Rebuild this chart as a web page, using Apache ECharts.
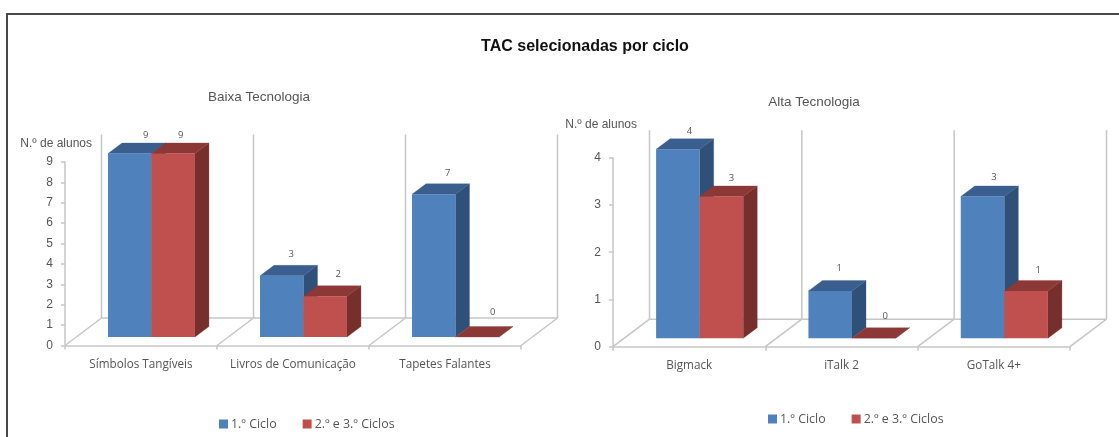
<!DOCTYPE html>
<html>
<head>
<meta charset="utf-8">
<style>html,body{margin:0;padding:0;background:#fff}#c{width:1119px;height:437px}</style>
<script src="https://cdn.jsdelivr.net/npm/echarts@6/dist/echarts.min.js"></script>
</head>
<body>
<div id="c"></div>
<script>
// ---- data ----
const seriesNames = ['1.º Ciclo', '2.º e 3.º Ciclos'];
const lowTechCategories = ['Símbolos Tangíveis', 'Livros de Comunicação', 'Tapetes Falantes'];
const lowTechCycle1 = [9, 3, 7];
const lowTechCycle23 = [9, 2, 0];
const highTechCategories = ['Bigmack', 'iTalk 2', 'GoTalk 4+'];
const highTechCycle1 = [4, 1, 3];
const highTechCycle23 = [3, 0, 1];

// ---- appearance ----
const wallDepth = [36.5, 27.5], barDepth = [14, 10.5], barRise = 8.5;
const barInset = 0.283, barShare = 0.286;
const lineGrey = '#c6c6c6', textGrey = '#555';
const palette = [
  {front: '#4f81bd', side: '#2f5078', top: '#3a5f8e'},
  {front: '#c0504d', side: '#772f2d', top: '#8c3836'}
];
const labelFont = '9.5px "Open Sans"';
// value-label offsets from the top-centre of each bar's front face: [panel][slot][category]
const labelOffsets = [
  [[[16, -18], [9.5, -22], [14, -21]], [[7.5, -18], [13, -21.5], [15.5, -25]]],
  [[[11.5, -18], [9, -23], [11.5, -19]], [[10, -18], [11.5, -22], [12, -21]]]
];

function wallsItem(params, api) {
  const i = api.value(0);
  const band = api.size([1, 0])[0];
  const base = api.coord([i, 0]);
  const top = api.coord([i, api.value(1)]);
  const dx = wallDepth[0], dy = wallDepth[1];
  const left = base[0] - band / 2;
  const y = base[1];
  const style = {stroke: lineGrey, lineWidth: 1.5, fill: null};
  const line = (a, b, c, d) => ({type: 'line', shape: {x1: a, y1: b, x2: c, y2: d}, style, silent: true});
  const kids = [
    line(left, y, left + dx, y - dy),
    line(left + dx, y - dy, left + dx, top[1] - dy),
    line(left + dx, y - dy, left + band + dx, y - dy)
  ];
  if (i === params.dataInsideLength - 1) {
    kids.push(line(left + band, y, left + band + dx, y - dy));
    kids.push(line(left + band + dx, y - dy, left + band + dx, top[1] - dy));
  }
  return {type: 'group', children: kids};
}

function barItem(panel, slot) {
  return function (params, api) {
    const cat = api.value(0);
    const band = api.size([1, 0])[0];
    const c0 = api.coord([cat, 0]);
    const c1 = api.coord([cat, api.value(1)]);
    const w = band * barShare;
    const x0 = c0[0] - band / 2 + band * barInset + slot * w;
    const x1 = x0 + w;
    const yb = c0[1] - barRise, yt = c1[1] - barRise;
    const dx = barDepth[0], dy = barDepth[1];
    const col = palette[slot];
    const off = labelOffsets[panel][slot][cat];
    const poly = (pts, fill) => ({type: 'polygon', shape: {points: pts}, style: {fill, stroke: fill, lineWidth: 0.3}});
    return {type: 'group', children: [
      poly([[x1, yb], [x1 + dx, yb - dy], [x1 + dx, yt - dy], [x1, yt]], col.side),
      poly([[x0, yt], [x1, yt], [x1 + dx, yt - dy], [x0 + dx, yt - dy]], col.top),
      {type: 'rect', shape: {x: x0, y: yt, width: w, height: yb - yt}, style: {fill: col.front}},
      {type: 'text', style: {text: String(api.value(1)), x: (x0 + x1) / 2 + off[0], y: yt + off[1],
        align: 'center', verticalAlign: 'middle', fill: textGrey, font: labelFont}}
    ]};
  };
}

const pairs = v => v.map((y, i) => [i, y]);

function panelSeries(axisIndex, maxValue, cats, a, b) {
  return [
    {type: 'custom', xAxisIndex: axisIndex, yAxisIndex: axisIndex, silent: true, z: 1, legendHoverLink: false,
     name: 'paredes' + axisIndex, renderItem: wallsItem, encode: {x: 0, y: 1},
     data: cats.map((c, i) => [i, maxValue])},
    {type: 'custom', name: seriesNames[0], xAxisIndex: axisIndex, yAxisIndex: axisIndex, z: 2, silent: true,
     itemStyle: {color: palette[0].front}, renderItem: barItem(axisIndex, 0), encode: {x: 0, y: 1}, data: pairs(a)},
    {type: 'custom', name: seriesNames[1], xAxisIndex: axisIndex, yAxisIndex: axisIndex, z: 3, silent: true,
     itemStyle: {color: palette[1].front}, renderItem: barItem(axisIndex, 1), encode: {x: 0, y: 1}, data: pairs(b)}
  ];
}

function xAxis(grid, cats) {
  return {type: 'category', gridIndex: grid, data: cats,
    axisLine: {show: true, lineStyle: {color: lineGrey, width: 1.5}},
    axisTick: {show: true, alignWithLabel: false, length: 4, lineStyle: {color: lineGrey, width: 1.5}},
    axisLabel: {margin: 13, fontFamily: 'Open Sans', fontSize: 11.7, color: textGrey, interval: 0},
    splitLine: {show: false}};
}
function yAxis(grid, maxValue, nameGap, padRight) {
  return {type: 'value', gridIndex: grid, min: 0, max: maxValue, interval: 1,
    name: 'N.º de alunos', nameLocation: 'end', nameGap: nameGap,
    nameTextStyle: {fontFamily: 'Liberation Sans', fontSize: 12, color: textGrey, align: 'right', padding: [0, padRight, 0, 0]},
    axisLine: {show: true, lineStyle: {color: lineGrey, width: 1.5}},
    axisTick: {show: true, length: 4, lineStyle: {color: lineGrey, width: 1.5}},
    axisLabel: {margin: 12, fontFamily: 'Liberation Sans', fontSize: 12, color: textGrey},
    splitLine: {show: false}};
}
const legendBase = {orient: 'horizontal', icon: 'rect', itemWidth: 9, itemHeight: 9, itemGap: 26,
  selectedMode: false, data: seriesNames, padding: 0,
  textStyle: {fontFamily: 'Open Sans', fontSize: 12.4, color: textGrey, padding: [0, 0, 0, -2]}};

const chart = echarts.init(document.getElementById('c'), null, {renderer: 'canvas'});
chart.setOption({
  animation: false,
  backgroundColor: '#fff',
  title: [
    {text: 'TAC selecionadas por ciclo', left: 580, top: 42, textAlign: 'center', textVerticalAlign: 'middle',
     textStyle: {fontFamily: 'Liberation Sans', fontSize: 16, fontWeight: 'bold', color: '#111'}},
    {text: 'Baixa Tecnologia', left: 254, top: 92, textAlign: 'center', textVerticalAlign: 'middle',
     textStyle: {fontFamily: 'Liberation Sans', fontSize: 13.5, fontWeight: 'normal', color: textGrey}},
    {text: 'Alta Tecnologia', left: 809, top: 97, textAlign: 'center', textVerticalAlign: 'middle',
     textStyle: {fontFamily: 'Liberation Sans', fontSize: 13.5, fontWeight: 'normal', color: textGrey}}
  ],
  legend: [
    Object.assign({}, legendBase, {left: 219, top: 418}),
    Object.assign({}, legendBase, {left: 768, top: 413})
  ],
  grid: [
    {left: 65, top: 162, width: 456, height: 183.5},
    {left: 613, top: 157.7, width: 457, height: 189}
  ],
  xAxis: [xAxis(0, lowTechCategories), xAxis(1, highTechCategories)],
  yAxis: [yAxis(0, 9, 12, -27), yAxis(1, 4, 27, -24)],
  series: panelSeries(0, 9, lowTechCategories, lowTechCycle1, lowTechCycle23)
    .concat(panelSeries(1, 4, highTechCategories, highTechCycle1, highTechCycle23)),
  graphic: [{type: 'polyline', silent: true, z: 10,
    shape: {points: [[7, 437], [7, 14], [1119, 14]]},
    style: {stroke: '#484848', lineWidth: 2, fill: null}}]
});
</script>
</body>
</html>
